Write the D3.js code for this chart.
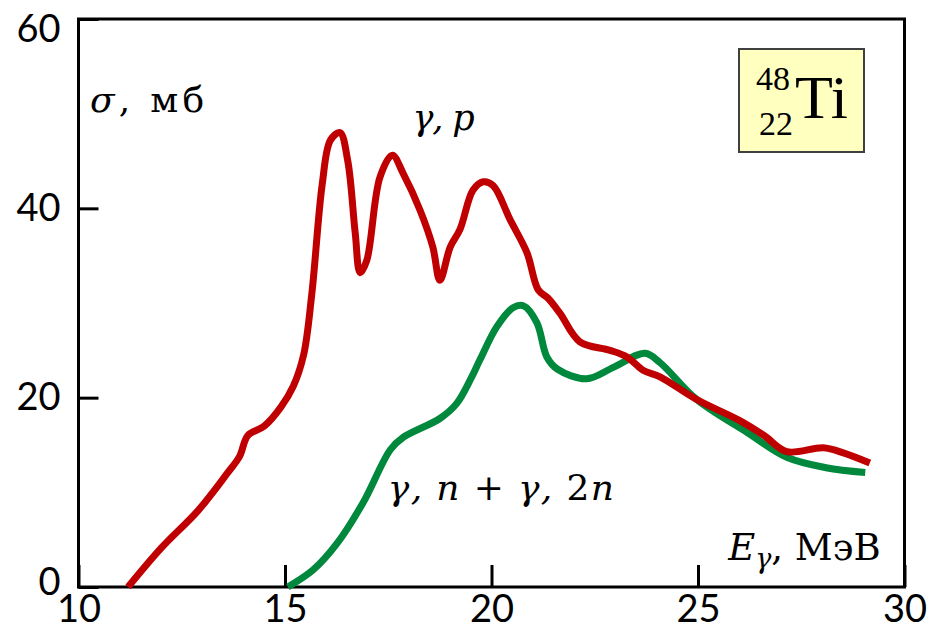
<!DOCTYPE html>
<html>
<head>
<meta charset="utf-8">
<title>48Ti photonuclear cross sections</title>
<style>
body { margin: 0; background: #fff; }
</style>
<script src="https://d3js.org/d3.v7.min.js"></script>
</head>
<body>
<svg id="chart" width="935" height="632"></svg>
<script>
// energies (MeV) and cross sections (mb)
const gpE = [11.2, 12.0, 12.9, 13.6, 13.9, 14.1, 14.5, 14.9, 15.2, 15.45, 15.65, 15.9, 16.1, 16.33, 16.52, 16.7, 16.82, 16.98, 17.3, 17.6, 17.86, 18.27, 18.58, 18.75, 19.0, 19.24, 19.55, 19.8, 20.04, 20.45, 20.86, 21.13, 21.37, 21.66, 22.14, 22.87, 23.28, 23.67, 24.08, 24.97, 26.0, 26.6, 27.15, 28.03, 28.5, 29.16];
const gpSigma = [0, 4.1, 8.1, 12.0, 13.8, 16.0, 17.0, 19.0, 21.2, 24.5, 31, 42.5, 47.2, 48, 45, 37.4, 33.2, 34.5, 43.3, 45.6, 43.7, 39.8, 35.9, 32.4, 35.9, 37.8, 41.9, 42.8, 42.4, 38.8, 35.3, 31.4, 30.5, 28.9, 25.9, 25.0, 24.3, 22.9, 22.2, 19.8, 17.6, 16.0, 14.3, 14.7, 14.2, 13.1];

const gnE = [15.07, 15.68, 16.26, 16.89, 17.55, 17.86, 18.75, 19.16, 19.5, 19.72, 20.13, 20.52, 20.77, 21.1, 21.34, 21.6, 22.3, 22.95, 23.72, 24.08, 24.97, 26.2, 27.15, 28.1, 29.05];
const gnSigma = [0, 1.8, 4.6, 8.9, 14.5, 15.8, 17.8, 19.4, 22.0, 24.0, 27.5, 29.5, 29.7, 27.9, 24.3, 23.0, 22.0, 23.2, 24.7, 23.7, 19.8, 16.3, 13.7, 12.6, 12.1];

const xTicks = [10, 15, 20, 25, 30];
const yTicks = [0, 20, 40, 60];

const svg = d3.select("#chart");
const W = 935, H = 632;
const margin = {left: 78.5, top: 19, right: 30.5, bottom: 45};

const x = d3.scaleLinear().domain([10, 30]).range([margin.left, W - margin.right]);
const y = d3.scaleLinear().domain([0, 60]).range([H - margin.bottom, margin.top]);

// tick labels font
const tickFont = "Lato, 'Open Sans', sans-serif";

const xAxis = d3.axisBottom(x)
    .tickValues(xTicks)
    .tickSizeInner(-22)
    .tickSizeOuter(0)
    .tickPadding(8);

const yAxis = d3.axisLeft(y)
    .tickValues(yTicks)
    .tickSizeInner(-20)
    .tickSizeOuter(0)
    .tickPadding(18);

const gx = svg.append("g")
    .attr("transform", `translate(0, ${y(0)})`)
    .call(xAxis);
const gy = svg.append("g")
    .attr("transform", `translate(${x(10)}, 0)`)
    .call(yAxis);

[gx, gy].forEach(g => {
    g.select(".domain").remove();
    g.selectAll(".tick line").attr("stroke", "#000").attr("stroke-width", 3);
    g.selectAll(".tick text")
        .attr("fill", "#000")
        .style("font-family", tickFont)
        .style("font-size", "38px");
});
gy.selectAll(".tick text").filter(d => d === 60).attr("dy", "0.6em");
gy.selectAll(".tick text").filter(d => d === 0).attr("dy", "0.2em");

// frame
svg.append("rect")
    .attr("x", x(10)).attr("y", y(60))
    .attr("width", x(30) - x(10)).attr("height", y(0) - y(60))
    .attr("fill", "none").attr("stroke", "#000").attr("stroke-width", 3);

const line = d3.line()
    .x(d => x(d[0]))
    .y(d => y(d[1]))
    .curve(d3.curveCatmullRom.alpha(0.5));

svg.append("path")
    .datum(gnE.map((e, i) => [e, gnSigma[i]]))
    .attr("d", line)
    .attr("fill", "none")
    .attr("stroke", "#00883c")
    .attr("stroke-width", 7)
    .attr("stroke-linejoin", "round");

svg.append("path")
    .datum(gpE.map((e, i) => [e, gpSigma[i]]))
    .attr("d", line)
    .attr("fill", "none")
    .attr("stroke", "#c00000")
    .attr("stroke-width", 7)
    .attr("stroke-linejoin", "round");

// labels
const serif = "'DejaVu Serif', 'Liberation Serif', serif";

const sigLabel = svg.append("text")
    .attr("x", x(10.28)).attr("y", y(50.2))
    .attr("textLength", 114).attr("lengthAdjust", "spacing")
    .style("font-family", serif).style("font-size", "36px");
sigLabel.append("tspan").style("font-style", "italic").text("σ");
sigLabel.append("tspan").text(", мб");

svg.append("text")
    .attr("x", x(18.09)).attr("y", y(48.3))
    .attr("textLength", 62).attr("lengthAdjust", "spacing")
    .style("font-family", serif).style("font-size", "35px")
    .style("font-style", "italic")
    .text("γ, p");

const gnLabel = svg.append("text")
    .attr("x", x(17.49)).attr("y", y(9.2))
    .attr("textLength", 226).attr("lengthAdjust", "spacing")
    .style("font-family", serif).style("font-size", "36px");
gnLabel.append("tspan").style("font-style", "italic").text("γ, n");
gnLabel.append("tspan").text(" + ");
gnLabel.append("tspan").style("font-style", "italic").text("γ, ");
gnLabel.append("tspan").text("2");
gnLabel.append("tspan").style("font-style", "italic").text("n");

const eLabel = svg.append("text")
    .attr("x", x(25.73)).attr("y", y(2.85))
    .style("font-family", serif).style("font-size", "37px");
eLabel.append("tspan").style("font-style", "italic").text("E");
eLabel.append("tspan").style("font-style", "italic").style("font-size", "27px").attr("dy", 8).text("γ");
eLabel.append("tspan").attr("dy", -8).text(", МэВ");

// nuclide box
const box = svg.append("g").attr("transform", "translate(739, 49)");
box.append("rect")
    .attr("width", 125).attr("height", 103)
    .attr("fill", "#ffffc0").attr("stroke", "#404040").attr("stroke-width", 2);
box.append("text").attr("x", 51).attr("y", 41).attr("text-anchor", "end")
    .style("font-family", "'Liberation Serif', serif").style("font-size", "34px").text("48");
box.append("text").attr("x", 54).attr("y", 86).attr("text-anchor", "end")
    .style("font-family", "'Liberation Serif', serif").style("font-size", "34px").text("22");
box.append("text").attr("x", 56).attr("y", 69)
    .style("font-family", "'Liberation Serif', serif").style("font-size", "62px").text("Ti");
</script>
</body>
</html>
